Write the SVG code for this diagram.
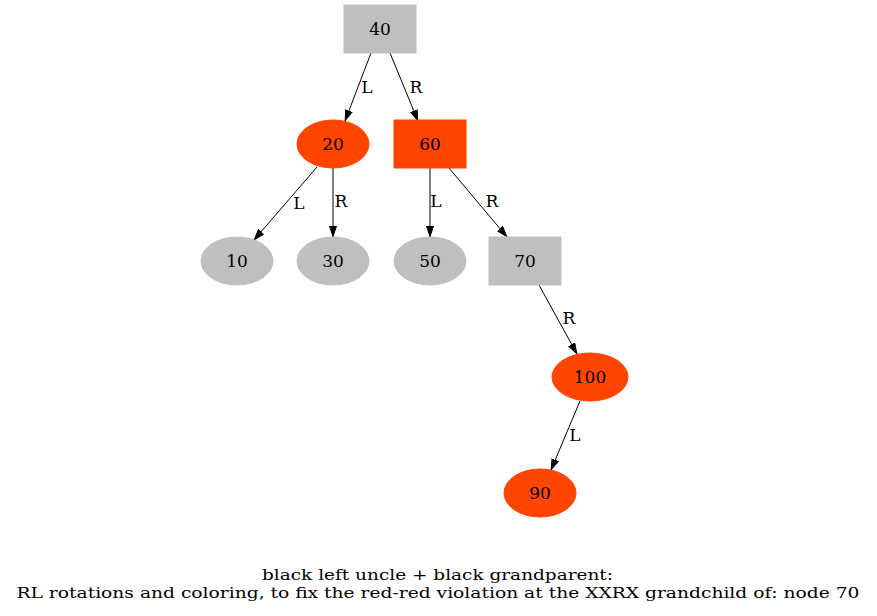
<svg xmlns="http://www.w3.org/2000/svg" width="877" height="616" viewBox="0 0 877 616">
<style>
text{font-family:"DejaVu Serif","Liberation Serif",serif;font-size:17px;fill:#000;}
.lbl{text-anchor:middle;dominant-baseline:central;}
.cap{font-size:15px;text-anchor:middle;}
.red{fill:#ff4500;stroke:#ff4500;}
.blk{fill:#bfbfbf;stroke:#bfbfbf;}
.e{stroke:#000;stroke-width:1;fill:none;marker-end:url(#ah);}
</style>
<defs>
<marker id="ah" markerWidth="11" markerHeight="8" refX="11" refY="4" orient="auto" markerUnits="userSpaceOnUse">
<path d="M0,0.5 L10.5,4 L0,7.5 z" fill="#000" stroke="#000"/>
</marker>
</defs>
<rect width="877" height="616" fill="#fff"/>
<g id="edges">
<path class="e" d="M371,53 L345,121"/>
<text x="367" y="87" class="lbl">L</text>
<path class="e" d="M390,53 L418,121"/>
<text x="416" y="87" class="lbl">R</text>
<path class="e" d="M317,167 L254,240"/>
<text x="299" y="203" class="lbl">L</text>
<path class="e" d="M333,168 L333,237"/>
<text x="341" y="201" class="lbl">R</text>
<path class="e" d="M430,168 L430,237"/>
<text x="436" y="201" class="lbl">L</text>
<path class="e" d="M449,168 L507,237"/>
<text x="492" y="201" class="lbl">R</text>
<path class="e" d="M539,285 L577,354"/>
<text x="569" y="318" class="lbl">R</text>
<path class="e" d="M580,401 L551,470"/>
<text x="575" y="435" class="lbl">L</text>
</g>
<g id="n40"><rect class="blk" x="344" y="5" width="72" height="48"/><text x="380" y="29" class="lbl">40</text></g>
<g id="n20"><ellipse class="red" cx="333" cy="144" rx="36" ry="24"/><text x="333" y="144" class="lbl">20</text></g>
<g id="n60"><rect class="red" x="394" y="120" width="72" height="48"/><text x="430" y="144" class="lbl">60</text></g>
<g id="n10"><ellipse class="blk" cx="237" cy="261" rx="36" ry="24"/><text x="237" y="261" class="lbl">10</text></g>
<g id="n30"><ellipse class="blk" cx="333" cy="261" rx="36" ry="24"/><text x="333" y="261" class="lbl">30</text></g>
<g id="n50"><ellipse class="blk" cx="430" cy="261" rx="36" ry="24"/><text x="430" y="261" class="lbl">50</text></g>
<g id="n70"><rect class="blk" x="489" y="237" width="72" height="48"/><text x="525" y="261" class="lbl">70</text></g>
<g id="n100"><ellipse class="red" cx="590" cy="377" rx="38" ry="24"/><text x="590" y="377" class="lbl">100</text></g>
<g id="n90"><ellipse class="red" cx="540" cy="493" rx="36" ry="24"/><text x="540" y="493" class="lbl">90</text></g>
<g id="caption">
<text x="437.5" y="580" class="cap" textLength="351" lengthAdjust="spacingAndGlyphs">black left uncle + black grandparent:</text>
<text x="438" y="598" class="cap" textLength="843" lengthAdjust="spacingAndGlyphs">RL rotations and coloring, to fix the red-red violation at the XXRX grandchild of: node 70</text>
</g>
</svg>
